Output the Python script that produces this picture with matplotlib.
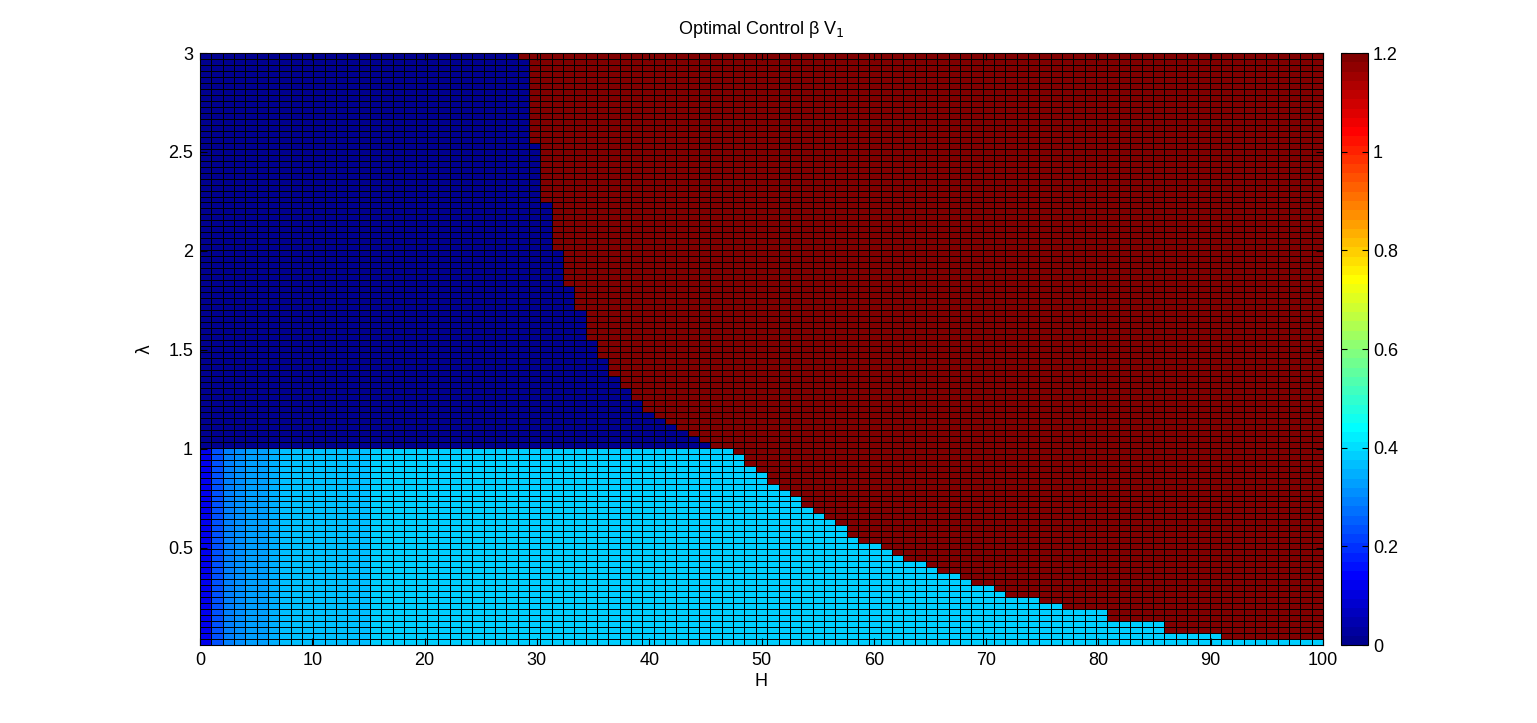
import numpy as np
import matplotlib
matplotlib.use('Agg')
import matplotlib.pyplot as plt
from matplotlib.colors import ListedColormap
from matplotlib.ticker import FormatStrFormatter

plt.rcParams['font.family'] = ['Liberation Sans', 'DejaVu Sans']

# ---- grid (axis coordinates) ----
H = np.linspace(0, 100, 100)
lam = np.linspace(0.01, 3, 100)

# ---- data ----
# first red column index for each row, rows listed from the top (lambda = 3) down
upper_first_red = ([28] + [29] * 14 + [30] * 10 + [31] * 8 + [32] * 6 + [33] * 4 +
                   [34] * 5 + [35] * 3 + [36] * 3 + [37] * 2 + [38] * 2 + [39] * 2 +
                   [40, 41, 42, 43, 44, 45])
lower_first_red = [47, 48, 48, 49, 50, 50, 51, 52, 53, 53, 54, 55, 56, 57, 57, 58,
                   60, 61, 62, 64, 65, 67, 68, 70, 71, 74, 76, 80, 80, 85, 85, 90, 99]
# control value of the low-lambda region for the first columns, then plateau
low_first_cols = [0.12, 0.235, 0.29, 0.31, 0.33, 0.33, 0.345,
                  0.37, 0.37, 0.37, 0.37, 0.37, 0.37, 0.37, 0.37]
low_plateau = 0.39
high_value = 1.2
zero_value = 0.0


def matlab_jet(m=64):
    n = int(np.ceil(m / 4))
    u = np.concatenate([np.arange(1, n + 1) / n, np.ones(n - 1), np.arange(n, 0, -1) / n])
    g = int(np.ceil(n / 2)) - (1 if m % 4 == 1 else 0) + np.arange(1, len(u) + 1)
    r = g + n
    b = g - n
    g = g[g <= m]
    r = r[r <= m]
    b = b[b >= 1]
    J = np.zeros((m, 3))
    J[r - 1, 0] = u[:len(r)]
    J[g - 1, 1] = u[:len(g)]
    J[b - 1, 2] = u[len(u) - len(b):]
    return ListedColormap(J)


ncol = len(H) - 1
low_row = np.array(low_first_cols + [low_plateau] * (ncol - len(low_first_cols)))
rows_top_down = []
for fr in upper_first_red:
    row = np.full(ncol, zero_value)
    row[fr:] = high_value
    rows_top_down.append(row)
for fr in lower_first_red:
    row = low_row.copy()
    row[fr:] = high_value
    rows_top_down.append(row)
C = np.array(rows_top_down[::-1])

cmap = matlab_jet(64)
FS = 13

fig = plt.figure(figsize=(15.37, 7.23), dpi=100)
ax = fig.add_axes([200 / 1537, 78 / 723, 1123 / 1537, 592 / 723])
mesh = ax.pcolormesh(H, lam, C, cmap=cmap, vmin=0, vmax=1.2,
                     edgecolors='k', linewidth=0.72, shading='flat',
                     antialiased=False)
ax.set_xlim(0, 100)
ax.set_ylim(lam[0], 3)
ax.set_xticks(np.arange(0, 101, 10))
ax.set_yticks([0.5, 1, 1.5, 2, 2.5, 3])
ax.yaxis.set_major_formatter(FormatStrFormatter('%g'))
ax.tick_params(direction='in', top=True, right=True, labelsize=FS, length=5, pad=5)
ax.set_xlabel('H', fontsize=FS, labelpad=3)
ax.set_ylabel('λ', fontsize=FS - 1, family=['DejaVu Sans'], rotation=90)
ax.yaxis.set_label_coords(-0.0415, 0.5)
ax.set_title('Optimal Control β V$_1$', fontsize=FS, pad=14)

cax = fig.add_axes([1341 / 1537, 78 / 723, 27 / 1537, 592 / 723])
cb = fig.colorbar(mesh, cax=cax)
cb.set_ticks([0, 0.2, 0.4, 0.6, 0.8, 1.0, 1.2])
cb.ax.yaxis.set_major_formatter(FormatStrFormatter('%g'))
cb.ax.tick_params(direction='in', left=True, right=True, labelsize=FS, length=4)
cb.outline.set_linewidth(0.8)

fig.savefig('out.png', dpi=100)
